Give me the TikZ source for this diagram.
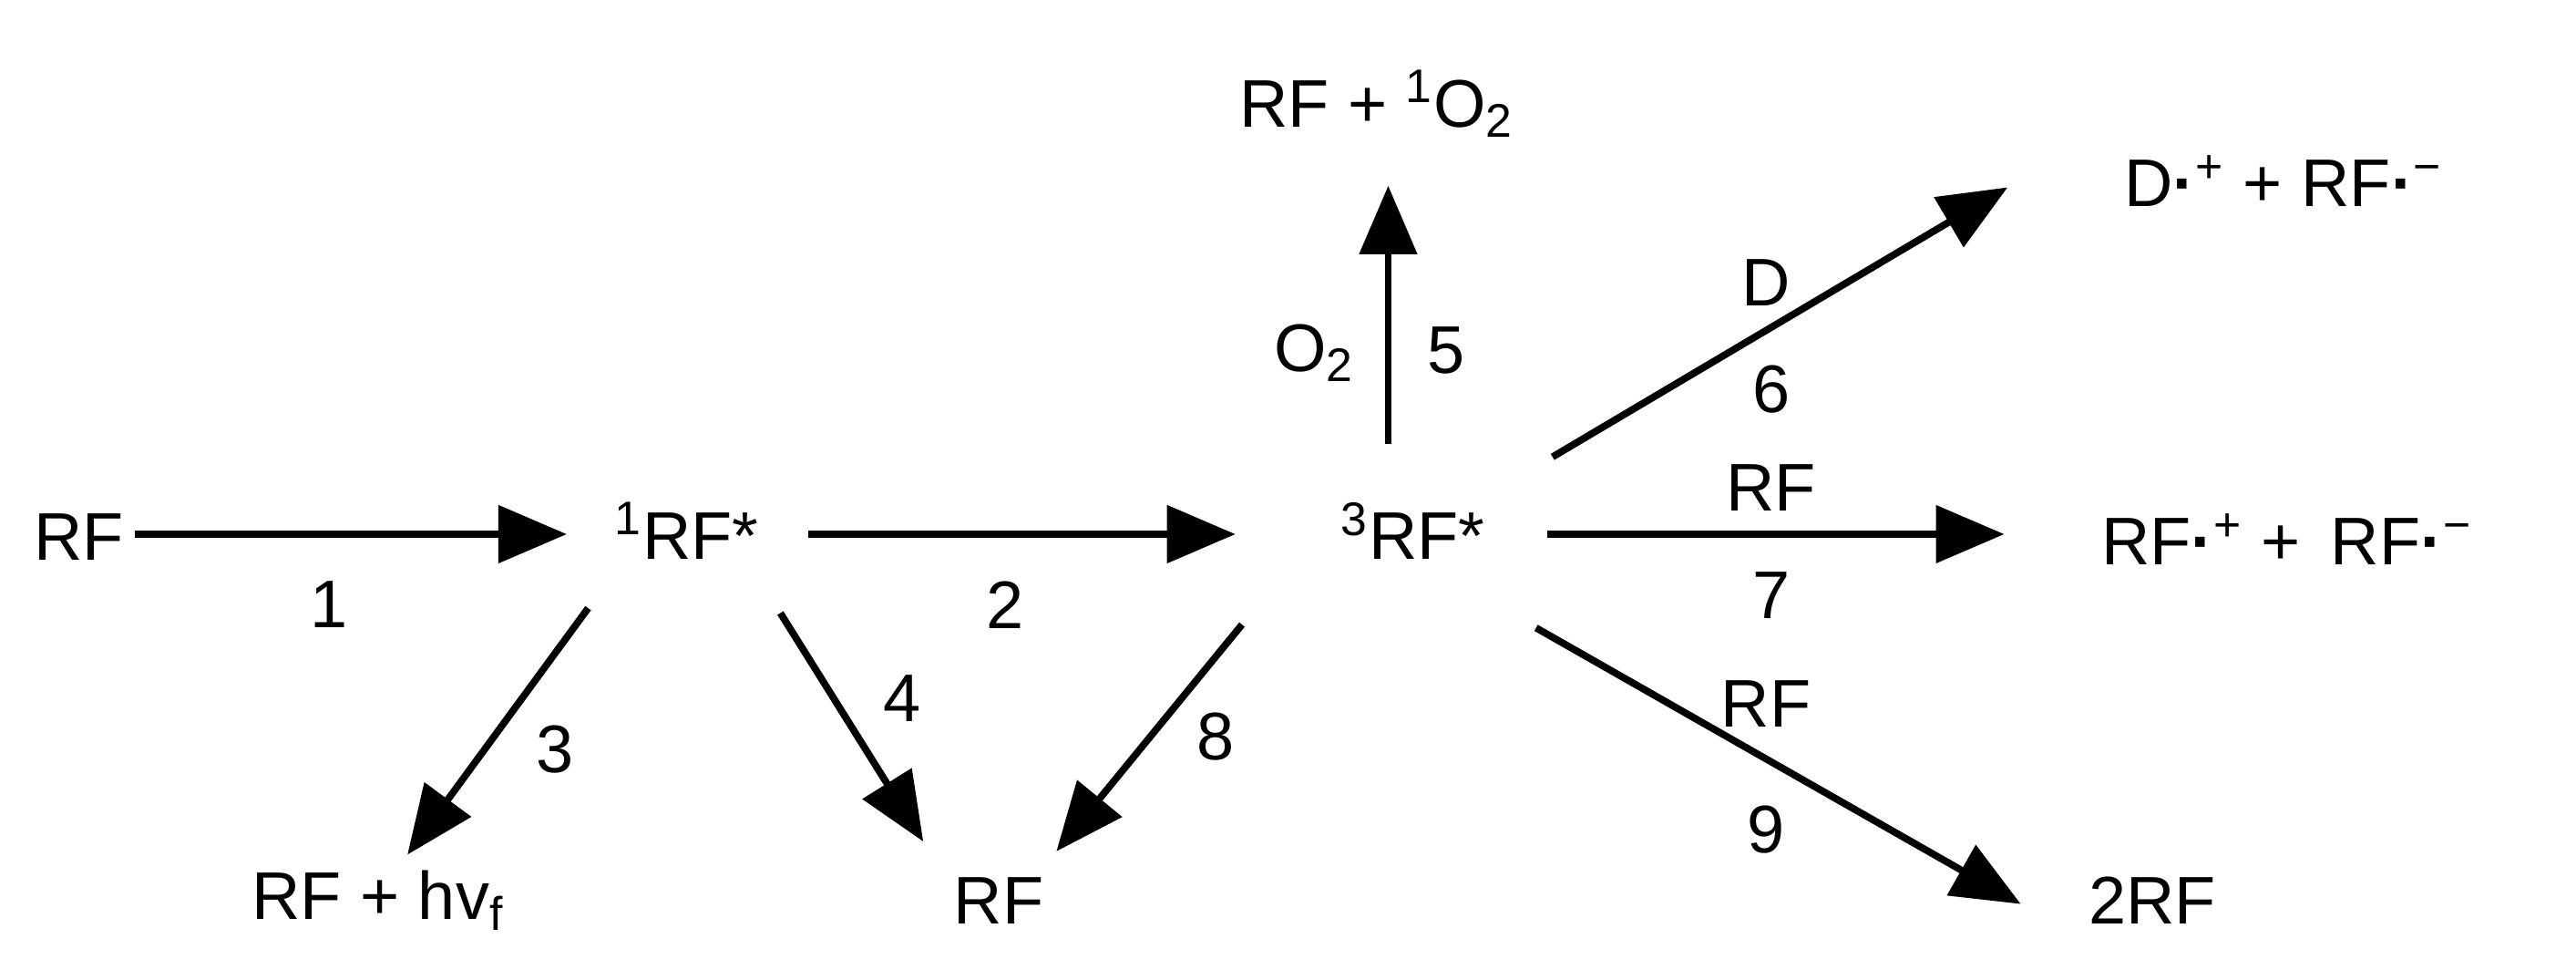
\documentclass[tikz,border=0pt]{standalone}
\usepackage{fontspec}
\setmainfont{Liberation Sans}
\usetikzlibrary{arrows.meta}
\tikzset{
  lbl/.style={inner sep=0pt, font=\fontsize{21}{25}\selectfont},
  rx/.style={line width=2.2pt, -{Triangle[length=0.75cm, width=0.62cm]}}
}
\begin{document}
\begin{tikzpicture}[x=0.018cm, y=-0.018cm]
\useasboundingbox (0,0) rectangle (1568,596);
% species
\node[lbl] (rf) at (48,327) {RF};
\node[lbl] (s1) at (418,323) {\textsuperscript{1}RF*};
\node[lbl] (t3) at (860,323) {\textsuperscript{3}RF*};
\node[lbl] (o2) at (838,63) {RF + \textsuperscript{1}O\textsubscript{2}};
\node[lbl] (dd) at (1390,110) {D\textbf{·}\textsuperscript{+} + RF\textbf{·}\textsuperscript{−}};
\node[lbl] (rr) at (1392,328) {RF\textbf{·}\textsuperscript{+} +\, RF\textbf{·}\textsuperscript{−}};
\node[lbl] (tw) at (1310,548) {2RF};
\node[lbl] (hv) at (230,548) {RF + hv\textsubscript{f}};
\node[lbl] (rb) at (608,548) {RF};
% arrow end points
\coordinate (a1s) at (82,325); \coordinate (a1e) at (345,325);
\coordinate (a2s) at (492,325); \coordinate (a2e) at (752,325);
\coordinate (a5s) at (845,270); \coordinate (a5e) at (845,113);
\coordinate (a6s) at (945,278); \coordinate (a6e) at (1222,114);
\coordinate (a7s) at (942,325); \coordinate (a7e) at (1220,325);
\coordinate (a9s) at (935,382); \coordinate (a9e) at (1230,550);
\coordinate (a3s) at (358,370); \coordinate (a3e) at (248,520);
\coordinate (a4s) at (475,373); \coordinate (a4e) at (562,512);
\coordinate (a8s) at (756,380); \coordinate (a8e) at (643,518);
\draw[rx] (a1s) -- (a1e);
\draw[rx] (a2s) -- (a2e);
\draw[rx] (a5s) -- (a5e);
\draw[rx] (a6s) -- (a6e);
\draw[rx] (a7s) -- (a7e);
\draw[rx] (a9s) -- (a9e);
\draw[rx] (a3s) -- (a3e);
\draw[rx] (a4s) -- (a4e);
\draw[rx] (a8s) -- (a8e);
% labels
\node[lbl] (l1) at (200,368) {1};
\node[lbl] (l2) at (612,368) {2};
\node[lbl] (l3) at (338,456) {3};
\node[lbl] (l4) at (549,425) {4};
\node[lbl] (l8) at (740,448) {8};
\node[lbl] (lo) at (800,215) {O\textsubscript{2}};
\node[lbl] (l5) at (880,213) {5};
\node[lbl] (ld) at (1075,172) {D};
\node[lbl] (l6) at (1078,237) {6};
\node[lbl] (lr7) at (1078,297) {RF};
\node[lbl] (l7) at (1078,362) {7};
\node[lbl] (lr9) at (1075,428) {RF};
\node[lbl] (l9) at (1075,505) {9};
\end{tikzpicture}
\end{document}
